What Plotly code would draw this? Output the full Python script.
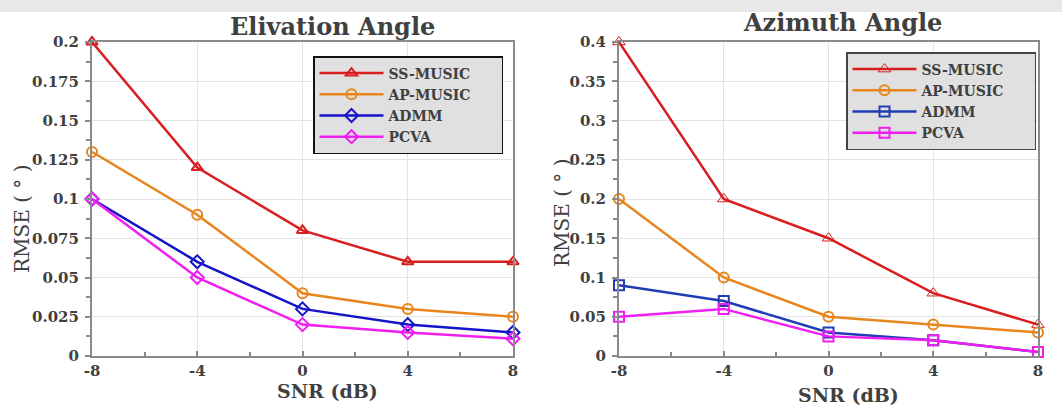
import plotly.graph_objects as go

snr = [-8, -4, 0, 4, 8]
series_names = ["SS-MUSIC", "AP-MUSIC", "ADMM", "PCVA"]

elev_ss = [0.2, 0.12, 0.08, 0.06, 0.06]
elev_ap = [0.13, 0.09, 0.04, 0.03, 0.025]
elev_admm = [0.1, 0.06, 0.03, 0.02, 0.015]
elev_pcva = [0.1, 0.05, 0.02, 0.015, 0.011]

azim_ss = [0.4, 0.2, 0.15, 0.08, 0.04]
azim_ap = [0.2, 0.1, 0.05, 0.04, 0.03]
azim_admm = [0.09, 0.07, 0.03, 0.02, 0.005]
azim_pcva = [0.05, 0.06, 0.025, 0.02, 0.005]

elev_ticks = [0, 0.025, 0.05, 0.075, 0.1, 0.125, 0.15, 0.175, 0.2]
elev_ticktext = ["0", "0.025", "0.05", "0.075", "0.1", "0.125", "0.15", "0.175", "0.2"]
azim_ticks = [0, 0.05, 0.1, 0.15, 0.2, 0.25, 0.3, 0.35, 0.4]
azim_ticktext = ["0", "0.05", "0.1", "0.15", "0.2", "0.25", "0.3", "0.35", "0.4"]
x_ticks = [-8, -4, 0, 4, 8]
x_ticktext = ["-8", "-4", "0", "4", "8"]

FONT = "DejaVu Serif"
TXT = "#404040"
colors_left = ["#d81e1e", "#e8861e", "#1414c8", "#f01ef0"]
colors_right = ["#d81e1e", "#e8861e", "#1e3cb4", "#f01ef0"]
symbols_left = ["triangle-up-open", "circle-open", "diamond-open", "diamond-open"]
symbols_right = ["triangle-up-open", "circle-open", "square-open", "square-open"]
PAD = "\u00a0" * 5  # extra room on the right side of the legend box

fig = go.Figure()

left_data = [elev_ss, elev_ap, elev_admm, elev_pcva]
right_data = [azim_ss, azim_ap, azim_admm, azim_pcva]

for i, (name, ys) in enumerate(zip(series_names, left_data)):
    fig.add_trace(go.Scatter(
        x=snr, y=ys, name=name + PAD, mode="lines+markers",
        line=dict(color=colors_left[i], width=2.5),
        marker=dict(symbol=symbols_left[i], size=10, color=colors_left[i],
                    line=dict(width=2, color=colors_left[i])),
        xaxis="x", yaxis="y", legend="legend", cliponaxis=False))

for i, (name, ys) in enumerate(zip(series_names, right_data)):
    fig.add_trace(go.Scatter(
        x=snr, y=ys, name=name + PAD, mode="lines+markers",
        line=dict(color=colors_right[i], width=2.5),
        marker=dict(symbol=symbols_right[i], size=10 if i else 11, color=colors_right[i],
                    line=dict(width=2 if i else 1, color=colors_right[i])),
        xaxis="x2", yaxis="y2", legend="legend2", cliponaxis=False))

ax_common = dict(
    showline=True, linecolor="#8a8a8a", linewidth=2, mirror=True,
    showgrid=True, gridcolor="#e4e4e4", gridwidth=1,
    ticks="outside", ticklen=5, tickwidth=2, tickcolor="#8a8a8a",
    tickfont=dict(family=FONT, size=15, color=TXT, weight="bold"),
    zeroline=False, automargin=False,
)

y0 = (408 - 356) / 408
y1 = (408 - 42) / 408
minor_x = dict(dtick=2, tick0=-8, ticks="inside", ticklen=4, tickwidth=2, tickcolor="#8a8a8a", showgrid=False)
legend_font = dict(family=FONT, size=14, color=TXT, weight="bold")

fig.update_layout(
    width=1062, height=408,
    margin=dict(l=0, r=0, t=0, b=0, autoexpand=False),
    paper_bgcolor="white", plot_bgcolor="white",
    showlegend=True,
    xaxis=dict(ax_common, domain=[92 / 1062, 513 / 1062], range=[-8, 8],
               tickvals=x_ticks, ticktext=x_ticktext, anchor="y", minor=minor_x,
               ticks="inside"),
    yaxis=dict(ax_common, domain=[y0, y1], range=[0, 0.2], anchor="x",
               tickvals=elev_ticks, ticktext=elev_ticktext, ticklabelstandoff=3,
               minor=dict(dtick=0.0125, tick0=0, ticks="outside", ticklen=4, tickwidth=2,
                          tickcolor="#8a8a8a", showgrid=False)),
    xaxis2=dict(ax_common, domain=[619 / 1062, 1038 / 1062], range=[-8, 8],
                tickvals=x_ticks, ticktext=x_ticktext, anchor="y2", minor=minor_x,
                ticks="inside"),
    yaxis2=dict(ax_common, domain=[y0, y1], range=[0, 0.4], anchor="x2",
                tickvals=azim_ticks, ticktext=azim_ticktext, ticklabelstandoff=3,
                minor=dict(dtick=0.025, tick0=0, ticks="outside", ticklen=4, tickwidth=2,
                           tickcolor="#8a8a8a", showgrid=False)),
    legend=dict(x=313 / 1062, y=(408 - 56) / 408, xanchor="left", yanchor="top",
                bgcolor="#e0e0e0", bordercolor="#111111", borderwidth=1.5,
                font=legend_font, itemwidth=64, tracegroupgap=0),
    legend2=dict(x=846 / 1062, y=(408 - 52) / 408, xanchor="left", yanchor="top",
                 bgcolor="#e0e0e0", bordercolor="#444444", borderwidth=1.5,
                 font=legend_font, itemwidth=64, tracegroupgap=0),
    shapes=[dict(type="rect", xref="paper", yref="paper", x0=0, x1=1,
                 y0=(408 - 12) / 408, y1=1, fillcolor="#e8e8e8", line=dict(width=0),
                 layer="below")],
    annotations=[
        dict(text="<b>Elivation Angle</b>", x=332 / 1062, y=(408 - 27) / 408, xref="paper", yref="paper",
             showarrow=False, font=dict(family=FONT, size=24, color=TXT), xanchor="center", yanchor="middle"),
        dict(text="<b>Azimuth Angle</b>", x=842 / 1062, y=(408 - 22) / 408, xref="paper", yref="paper",
             showarrow=False, font=dict(family=FONT, size=24, color=TXT), xanchor="center", yanchor="middle"),
        dict(text="RMSE ( ° )", x=22 / 1062, y=(408 - 219) / 408, xref="paper", yref="paper", textangle=-90,
             showarrow=False, font=dict(family=FONT, size=20, color=TXT), xanchor="center", yanchor="middle"),
        dict(text="RMSE ( ° )", x=562 / 1062, y=(408 - 213) / 408, xref="paper", yref="paper", textangle=-90,
             showarrow=False, font=dict(family=FONT, size=20, color=TXT), xanchor="center", yanchor="middle"),
        dict(text="<b>SNR (dB)</b>", x=327 / 1062, y=(408 - 391) / 408, xref="paper", yref="paper",
             showarrow=False, font=dict(family=FONT, size=19, color=TXT), xanchor="center", yanchor="middle"),
        dict(text="<b>SNR (dB)</b>", x=848 / 1062, y=(408 - 395) / 408, xref="paper", yref="paper",
             showarrow=False, font=dict(family=FONT, size=19, color=TXT), xanchor="center", yanchor="middle"),
    ],
)

fig.write_html("out.html", config={"displayModeBar": False},
               post_script="document.body.style.margin='0';document.body.style.overflow='hidden';")
